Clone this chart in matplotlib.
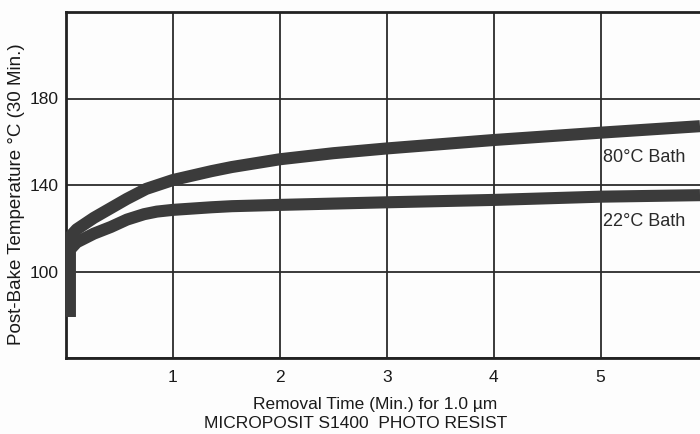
import matplotlib
matplotlib.use("Agg")
import matplotlib.pyplot as plt

plt.rcParams['font.family'] = ['Liberation Sans', 'DejaVu Sans']

# Data
time_80 = [0.035, 0.035, 0.1, 0.26, 0.57, 0.75, 1.0, 1.36, 1.55, 2.0, 2.5, 3.0, 4.0, 5.0, 5.93]
temp_80 = [79, 116, 119.5, 124.8, 133.6, 138.2, 142.3, 146.4, 148.3, 151.9, 154.7, 156.9, 160.8, 164.2, 167.2]

time_22 = [0.035, 0.035, 0.1, 0.26, 0.42, 0.57, 0.73, 0.85, 1.0, 1.36, 1.55, 2.0, 3.0, 4.0, 5.0, 5.93]
temp_22 = [79, 110, 113.5, 117.5, 120.6, 124.0, 126.5, 127.7, 128.5, 129.7, 130.2, 130.8, 132.0, 133.1, 134.6, 135.3]

x_ticks = [1, 2, 3, 4, 5]
y_ticks = [100, 140, 180]
x_grid = [0, 1, 2, 3, 4, 5, 6]
y_grid = [60, 100, 140, 180, 220]

labels = ["80\u00b0C Bath", "22\u00b0C Bath"]

line_color = '#3b3b3b'
grid_color = '#2b2b2b'
text_color = '#1a1a1a'

fig = plt.figure(figsize=(7.0, 4.34), dpi=100, facecolor='#fdfdfd')
ax = fig.add_axes([66/700, 76/434, 634/700, 346/434])
ax.set_facecolor('#fdfdfd')

ax.set_xlim(0, 5.93)
ax.set_ylim(60, 220)

for gx in x_grid:
    ax.axvline(gx, color=grid_color, lw=1.3, zorder=1)
for gy in y_grid:
    ax.axhline(gy, color=grid_color, lw=1.3, zorder=1)

ax.plot(time_80, temp_80, color=line_color, lw=8.7, solid_capstyle='butt',
        solid_joinstyle='round', zorder=3)
ax.plot(time_22, temp_22, color=line_color, lw=8.7, solid_capstyle='butt',
        solid_joinstyle='round', zorder=3)

ax.set_xticks(x_ticks)
ax.set_xticklabels([str(t) for t in x_ticks])
ax.set_yticks(y_ticks)
ax.set_yticklabels([str(t) for t in y_ticks])
ax.tick_params(length=0, labelsize=12.5, colors=text_color, pad=5)
ax.tick_params(axis='x', pad=9)

for side in ['left', 'bottom', 'top']:
    ax.spines[side].set_linewidth(2.0)
    ax.spines[side].set_color('#222222')
ax.spines['right'].set_visible(False)

ax.text(5.02, 152.5, labels[0], fontsize=13, color='#2a2a2a', va='center', ha='left')
ax.text(5.02, 123.0, labels[1], fontsize=13, color='#2a2a2a', va='center', ha='left')

fig.text(375/700, 1 - 404/434, "Removal Time (Min.) for 1.0 \u00b5m", fontsize=12.5,
         color=text_color, ha='center', va='center')
fig.text(356/700, 1 - 423/434, "MICROPOSIT S1400  PHOTO RESIST", fontsize=12.5,
         color=text_color, ha='center', va='center')
fig.text(17/700, 1 - 194/434, "Post-Bake Temperature \u00b0C (30 Min.)", fontsize=13.5,
         color=text_color, ha='center', va='center', rotation=90)

fig.savefig('out.png', dpi=100, facecolor=fig.get_facecolor())
